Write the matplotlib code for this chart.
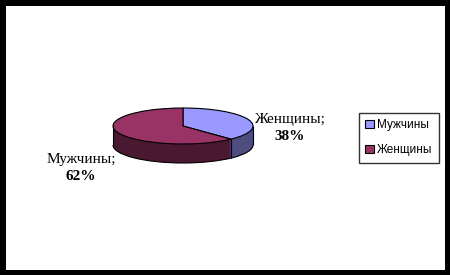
import matplotlib.pyplot as plt
import numpy as np
from matplotlib.patches import Patch, Arc, Rectangle

# data
categories = ['Мужчины', 'Женщины']
values = [38, 62]
# names shown next to the slices (as printed on the original chart)
label_names = ['Женщины', 'Мужчины']

top_colors = ['#9999FF', '#993366']
side_colors = ['#4D4D80', '#4A1830']

W, H = 450, 275
fig = plt.figure(figsize=(W / 100, H / 100), dpi=100)
fig.patch.set_facecolor('black')
# white inner area, black frame around it
fig.patches.append(Rectangle((6 / W, 5 / H), (445 - 6) / W, (270 - 6) / H,
                             transform=fig.transFigure, facecolor='white',
                             edgecolor='none', zorder=-5))

ax = fig.add_axes([0, 0, 1, 1])
ax.patch.set_alpha(0)

# pixel scale: radius 1 -> 70 px wide, 18 px tall; centre at (183, 126)
cx, cy = 183, 126
rx, ry = 70, 18
depth = 19 / ry

# side of the cylinder: stacked pies going up
for d in np.linspace(depth, 0, 40):
    ax.pie(values, colors=side_colors, startangle=90, counterclock=False,
           center=(0, -d), radius=1, wedgeprops=dict(linewidth=0))

# outline of the side
ax.add_patch(Arc((0, -depth), 2, 2, theta1=180, theta2=360, color='black', lw=0.8))
bounds = 90 - 360 * np.cumsum([0] + values) / sum(values)
xs = [-1, 1]
for a in bounds:
    s = np.sin(np.radians(a))
    if s < 0:
        xs.append(np.cos(np.radians(a)))
for x in xs:
    y0 = -np.sqrt(max(1 - x * x, 0))
    ax.vlines(x, y0 - depth, y0, color='black', lw=0.8)

# top face
ax.pie(values, colors=top_colors, startangle=90, counterclock=False,
       center=(0, 0), radius=1, wedgeprops=dict(edgecolor='black', linewidth=0.8))

ax.set_aspect('auto')
ax.set_xlim(-cx / rx, (W - cx) / rx)
ax.set_ylim(-(H - cy) / ry, cy / ry)
ax.axis('off')

# data labels
label_pos = [(290, 119), (81, 159)]
for (px, py), name, v in zip(label_pos, label_names, values):
    fig.text(px / W, 1 - py / H, f'{name};', ha='center', va='center',
             family='Liberation Serif', fontsize=11)
    fig.text(px / W, 1 - (py + 18) / H, f'{v}%', ha='center', va='center',
             family='Liberation Serif', fontsize=11, fontweight='bold')

handles = [Patch(facecolor=c, edgecolor='black', linewidth=0.8) for c in top_colors]
leg = fig.legend(handles, categories, loc='upper left',
                 bbox_to_anchor=(359 / W, 1 - 113 / H),
                 prop=dict(family='Liberation Sans', size=8.5),
                 frameon=True, fancybox=False, edgecolor='black',
                 handlelength=0.7, handleheight=0.7, handletextpad=0.3,
                 labelspacing=1.1, borderpad=0.55, borderaxespad=0)
leg.get_frame().set_linewidth(1.0)

plt.savefig('out.png', dpi=100, facecolor=fig.get_facecolor())
